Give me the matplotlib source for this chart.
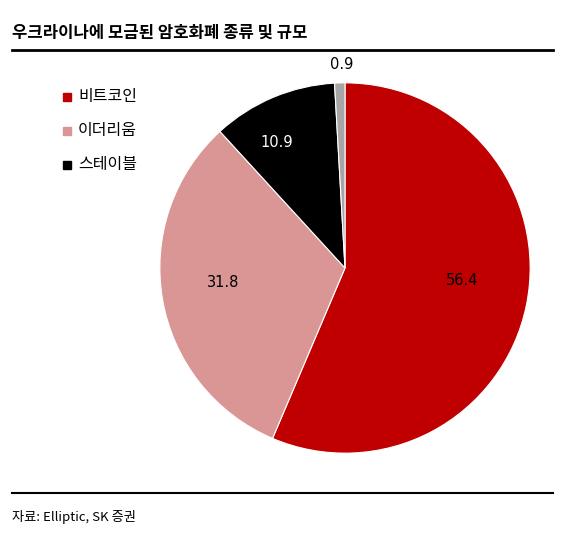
import matplotlib
matplotlib.use('Agg')
import matplotlib.pyplot as plt
from matplotlib.lines import Line2D

plt.rcParams['font.family'] = ['Noto Sans CJK KR', 'DejaVu Sans']

labels = ['비트코인', '이더리움', '스테이블', '기타']
values = [56.4, 31.8, 10.9, 0.9]
colors = ['#C00000', '#D99694', '#000000', '#A6A6A6']
legend_labels = ['비트코인', '이더리움', '스테이블']

W, H = 580, 559
fig = plt.figure(figsize=(W / 100, H / 100), dpi=100)

# title and rules
fig.text(12 / W, 1 - 33 / H, '우크라이나에 모금된 암호화폐 종류 및 규모', fontsize=12,
         fontweight='bold', va='center', ha='left')
fig.add_artist(Line2D([12 / W, 553 / W], [1 - 50 / H] * 2, color='black', lw=2))
fig.add_artist(Line2D([12 / W, 553 / W], [1 - 493 / H] * 2, color='black', lw=1.5))
fig.text(12 / W, 1 - 517 / H, '자료: Elliptic, SK 증권', fontsize=9.5, va='center', ha='left')

# pie
cx, cy, r = 345, 268, 187
ax = fig.add_axes([(cx - r) / W, (H - cy - r) / H, 2 * r / W, 2 * r / H])
wedges, _ = ax.pie(values, colors=colors, startangle=90, counterclock=False, radius=1,
                   wedgeprops=dict(edgecolor='white', linewidth=0.8))
ax.set_xlim(-1.01, 1.01); ax.set_ylim(-1.01, 1.01); ax.set_aspect('equal')
ax.axis('off')

# value labels
lab_pos = [(0.63, -0.07), (-0.66, -0.08), (-0.37, 0.68), (-0.02, 1.1)]
lab_col = ['black', 'black', 'white', 'black']
for v, (x, y), c in zip(values, lab_pos, lab_col):
    ax.text(x, y, f'{v}', ha='center', va='center', fontsize=10.5, color=c,
            family=['DejaVu Sans'])

# legend
for i, (lbl, c) in enumerate(zip(legend_labels, colors)):
    y = 1 - (97 + i * 34) / H
    fig.patches.append(plt.Rectangle((63 / W, y - 4 / H), 8 / W, 8 / H, color=c,
                                     transform=fig.transFigure))
    fig.text(78 / W, y, lbl, fontsize=11.5, va='center', ha='left')

fig.savefig('out.png', dpi=100)
